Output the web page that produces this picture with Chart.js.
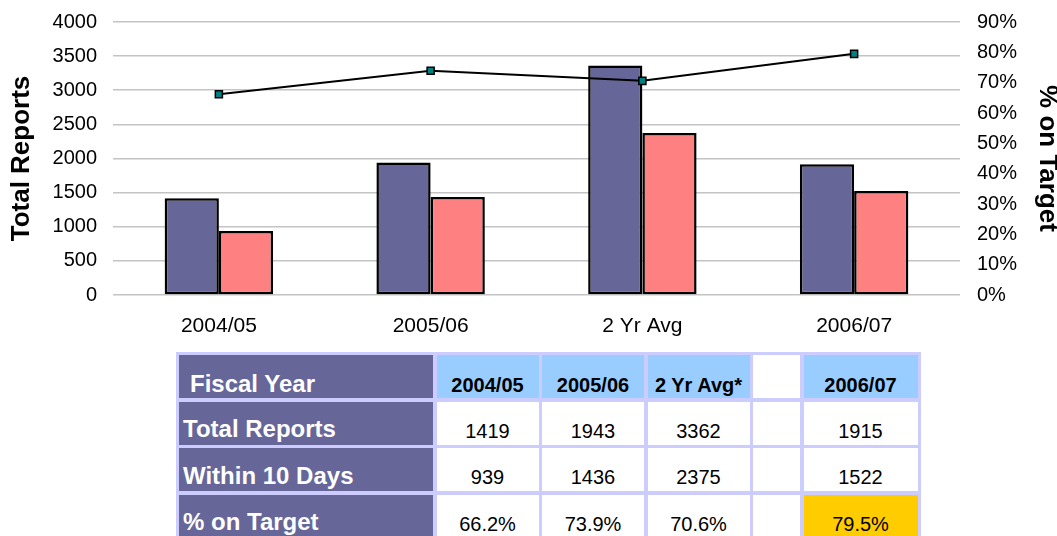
<!DOCTYPE html>
<html>
<head>
<meta charset="utf-8">
<script src="https://cdn.jsdelivr.net/npm/chart.js@4/dist/chart.umd.min.js"></script>
<style>
  body { margin: 0; background: #fff; font-family: "Liberation Sans", Arial, sans-serif; overflow: hidden; }
  #chartBox { position: absolute; left: 0; top: -7px; width: 1057px; height: 353px; }
  #summary {
    position: absolute; left: 176px; top: 352px;
    display: grid;
    grid-template-columns: 254px 102px 102px 102px 47px 114px;
    grid-auto-rows: 43px;
    gap: 3.5px;
    padding: 3px;
    background: #ccccff;
  }
  #summary div { box-sizing: border-box; background: #fff; color: #000; white-space: nowrap; }
  #summary .rowHead { background: #666699; color: #fff; font-weight: bold; font-size: 24px; line-height: 24px; padding: 15.5px 0 0 4px; }
  #summary .corner { padding: 16.5px 0 0 11px; }
  #summary .colHead { background: #99ccff; font-weight: bold; font-size: 20px; line-height: 20px; padding-top: 20px; text-align: center; }
  #summary .colHead.blank { background: #fff; }
  #summary .num { font-size: 20px; line-height: 20px; padding-top: 19px; text-align: center; }
  #summary .hilite { background: #ffcc00; }
</style>
</head>
<body>
<div id="chartBox"><canvas id="reportsChart"></canvas></div>
<div id="summary"></div>
<script>
const categories = ['2004/05', '2005/06', '2 Yr Avg', '2006/07'];
const totalReports = [1419, 1943, 3362, 1915];
const within10Days = [939, 1436, 2375, 1522];
const pctOnTarget = [66.2, 73.9, 70.6, 79.5];

// table columns: the blank column sits between the average and 2006/07
const tableHeaders = ['2004/05', '2005/06', '2 Yr Avg*', '', '2006/07'];
const tableIndex = [0, 1, 2, null, 3];

const tickFont = { family: 'Liberation Sans', size: 20 };
const titleFont = { family: 'Liberation Sans', size: 26, weight: 'bold' };

const ctx = document.getElementById('reportsChart');
new Chart(ctx, {
  type: 'bar',
  data: {
    labels: categories,
    datasets: [
      {
        type: 'line',
        label: '% on Target',
        data: pctOnTarget,
        yAxisID: 'yPct',
        borderColor: '#000',
        borderWidth: 2,
        pointStyle: 'rect',
        pointRadius: 5,
        pointBackgroundColor: '#008080',
        pointBorderColor: '#000',
        pointBorderWidth: 1.5,
        order: 0
      },
      {
        label: 'Total Reports',
        data: totalReports,
        yAxisID: 'y',
        backgroundColor: '#666699',
        borderColor: '#000',
        borderWidth: 2.5,
        borderSkipped: false,
        order: 1
      },
      {
        label: 'Within 10 Days',
        data: within10Days,
        yAxisID: 'y',
        backgroundColor: '#ff8080',
        borderColor: '#000',
        borderWidth: 2.5,
        borderSkipped: false,
        order: 1
      }
    ]
  },
  options: {
    responsive: true,
    maintainAspectRatio: false,
    animation: false,
    layout: { padding: { top: 14, left: 0, right: 0, bottom: 0 } },
    datasets: { bar: { categoryPercentage: 0.512, barPercentage: 1 } },
    plugins: { legend: { display: false }, tooltip: { enabled: false } },
    scales: {
      x: {
        grid: { display: false },
        border: { display: false },
        ticks: { color: '#000', font: { family: 'Liberation Sans', size: 21 }, padding: 11 },
        afterFit: s => { s.height = 51; }
      },
      y: {
        position: 'left',
        min: 0,
        max: 4000,
        ticks: { stepSize: 500, color: '#000', font: tickFont, padding: 16, callback: v => String(v) },
        grid: { color: '#c4c4c4', lineWidth: 1.6, drawTicks: false },
        border: { display: false },
        title: { display: true, text: 'Total Reports', color: '#000', font: titleFont, padding: { top: 6, bottom: 0 } },
        afterFit: s => { s.width = 113; }
      },
      yPct: {
        position: 'right',
        min: 0,
        max: 90,
        ticks: { stepSize: 10, color: '#000', font: tickFont, padding: 17, callback: v => v + '%' },
        grid: { display: false, drawTicks: false },
        border: { display: false },
        title: { display: true, text: '% on Target', color: '#000', font: { family: 'Liberation Sans', size: 26, weight: 'bold', lineHeight: 1 }, padding: { top: -3, bottom: 0 } },
        afterFit: s => { s.width = 97; }
      }
    }
  }
});

// summary table under the chart
const summary = document.getElementById('summary');
function cell(cls, text) {
  const d = document.createElement('div');
  d.className = cls;
  d.textContent = text;
  summary.appendChild(d);
}
cell('rowHead corner', 'Fiscal Year');
tableHeaders.forEach(h => cell(h ? 'colHead' : 'colHead blank', h));

const rows = [
  ['Total Reports', totalReports.map(String)],
  ['Within 10 Days', within10Days.map(String)],
  ['% on Target', pctOnTarget.map(v => v.toFixed(1) + '%')]
];
rows.forEach(([name, vals], r) => {
  cell('rowHead', name);
  tableIndex.forEach(i => {
    if (i === null) { cell('num', ''); return; }
    const last = r === rows.length - 1 && i === 3;
    cell(last ? 'num hilite' : 'num', vals[i]);
  });
});
</script>
</body>
</html>
